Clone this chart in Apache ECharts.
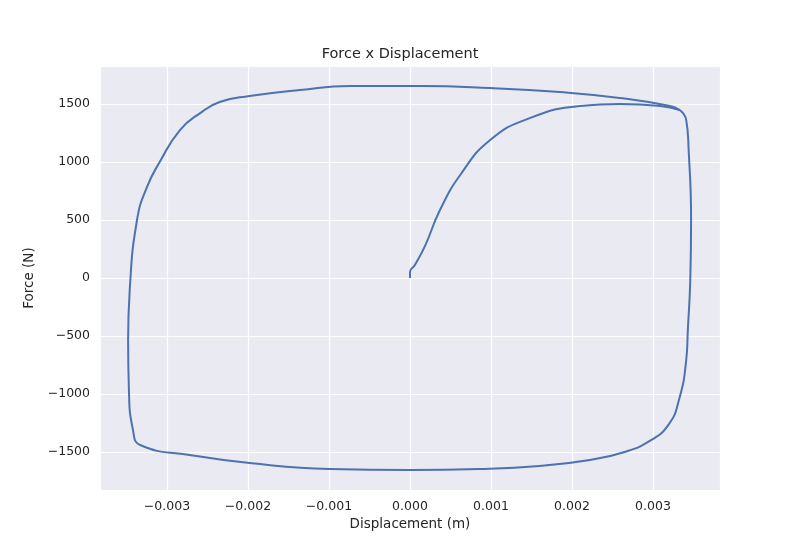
<!DOCTYPE html>
<html>
<head>
<meta charset="utf-8">
<script src="https://cdn.jsdelivr.net/npm/echarts@6/dist/echarts.min.js"></script>
<style>html,body{margin:0;background:#fff}#chart{width:800px;height:550px}</style>
</head>
<body>
<div id="chart"></div>
<script>
// virgin loading curve (m, N)
let initDisp = [0, 0, 0.00006, 0.00019, 0.00037, 0.00062, 0.00099, 0.00148, 0.0021, 0.00259, 0.00309, 0.00333];
let initForce = [0, 52, 112, 284, 586, 888, 1190, 1379, 1483, 1500, 1483, 1448];
// stabilised hysteresis loop
let loopDisp = [0.00333, 0.00341, 0.00344, 0.00347, 0.00346, 0.00343, 0.00341, 0.00332, 0.00319, 0.00296, 0.00265, 0.00222, 0.0016, 0.00086, 0,
    -0.00099, -0.00198, -0.00272, -0.00333, -0.00342, -0.00347, -0.00348, -0.00346, -0.00337, -0.00325, -0.00309, -0.00284, -0.00259,
    -0.00235, -0.00198, -0.00136, -0.00074, 0.00012, 0.00099, 0.00185, 0.00259, 0.00321, 0.00333];
let loopForce = [1448, 1362, 1103, 500, -17, -448, -707, -1052, -1267, -1405, -1500, -1569, -1621, -1647, -1655,
    -1647, -1595, -1526, -1440, -1310, -966, -534, -103, 500, 780, 1000, 1276, 1422,
    1517, 1569, 1621, 1655, 1655, 1638, 1603, 1552, 1483, 1448];

function zip(xs, ys) { return xs.map((x, i) => [x, ys[i]]); }

let myChart = echarts.init(document.getElementById('chart'));
let txt = { color: '#262626', fontFamily: 'DejaVu Sans', fontSize: 12.5 };
let option = {
    animation: false,
    title: { text: 'Force x Displacement', left: 'center', top: 42,
        textStyle: { color: '#262626', fontFamily: 'DejaVu Sans', fontSize: 14.5, fontWeight: 'normal' } },
    grid: { left: 100, right: 80, top: 66, bottom: 60, show: true, backgroundColor: '#eaeaf2', borderWidth: 0 },
    xAxis: {
        type: 'value', min: -0.003827, max: 0.003827, splitNumber: 8,
        name: 'Displacement (m)', nameLocation: 'middle', nameGap: 27,
        nameTextStyle: Object.assign({}, txt, { fontSize: 13.5 }),
        axisLine: { show: false }, axisTick: { show: false },
        axisLabel: Object.assign({}, txt, { showMinLabel: false, showMaxLabel: false, margin: 10,
            formatter: v => v.toFixed(3).replace('-', '\u2212') }),
        splitLine: { lineStyle: { color: '#fff', width: 1.2 } }
    },
    yAxis: {
        type: 'value', min: -1828, max: 1828, splitNumber: 8,
        name: 'Force (N)', nameLocation: 'middle', nameGap: 62,
        nameTextStyle: Object.assign({}, txt, { fontSize: 13.5 }),
        axisLine: { show: false }, axisTick: { show: false },
        axisLabel: Object.assign({}, txt, { showMinLabel: false, showMaxLabel: false, margin: 10,
            formatter: v => String(v).replace('-', '\u2212') }),
        splitLine: { lineStyle: { color: '#fff', width: 1.2 } }
    },
    series: [
        { type: 'line', data: zip(initDisp, initForce), smooth: 0.5, showSymbol: false,
          lineStyle: { color: '#4c72b0', width: 2 } },
        { type: 'line', data: zip(loopDisp, loopForce), smooth: 0.5, showSymbol: false,
          lineStyle: { color: '#4c72b0', width: 2 } }
    ]
};
myChart.setOption(option);
</script>
</body>
</html>
